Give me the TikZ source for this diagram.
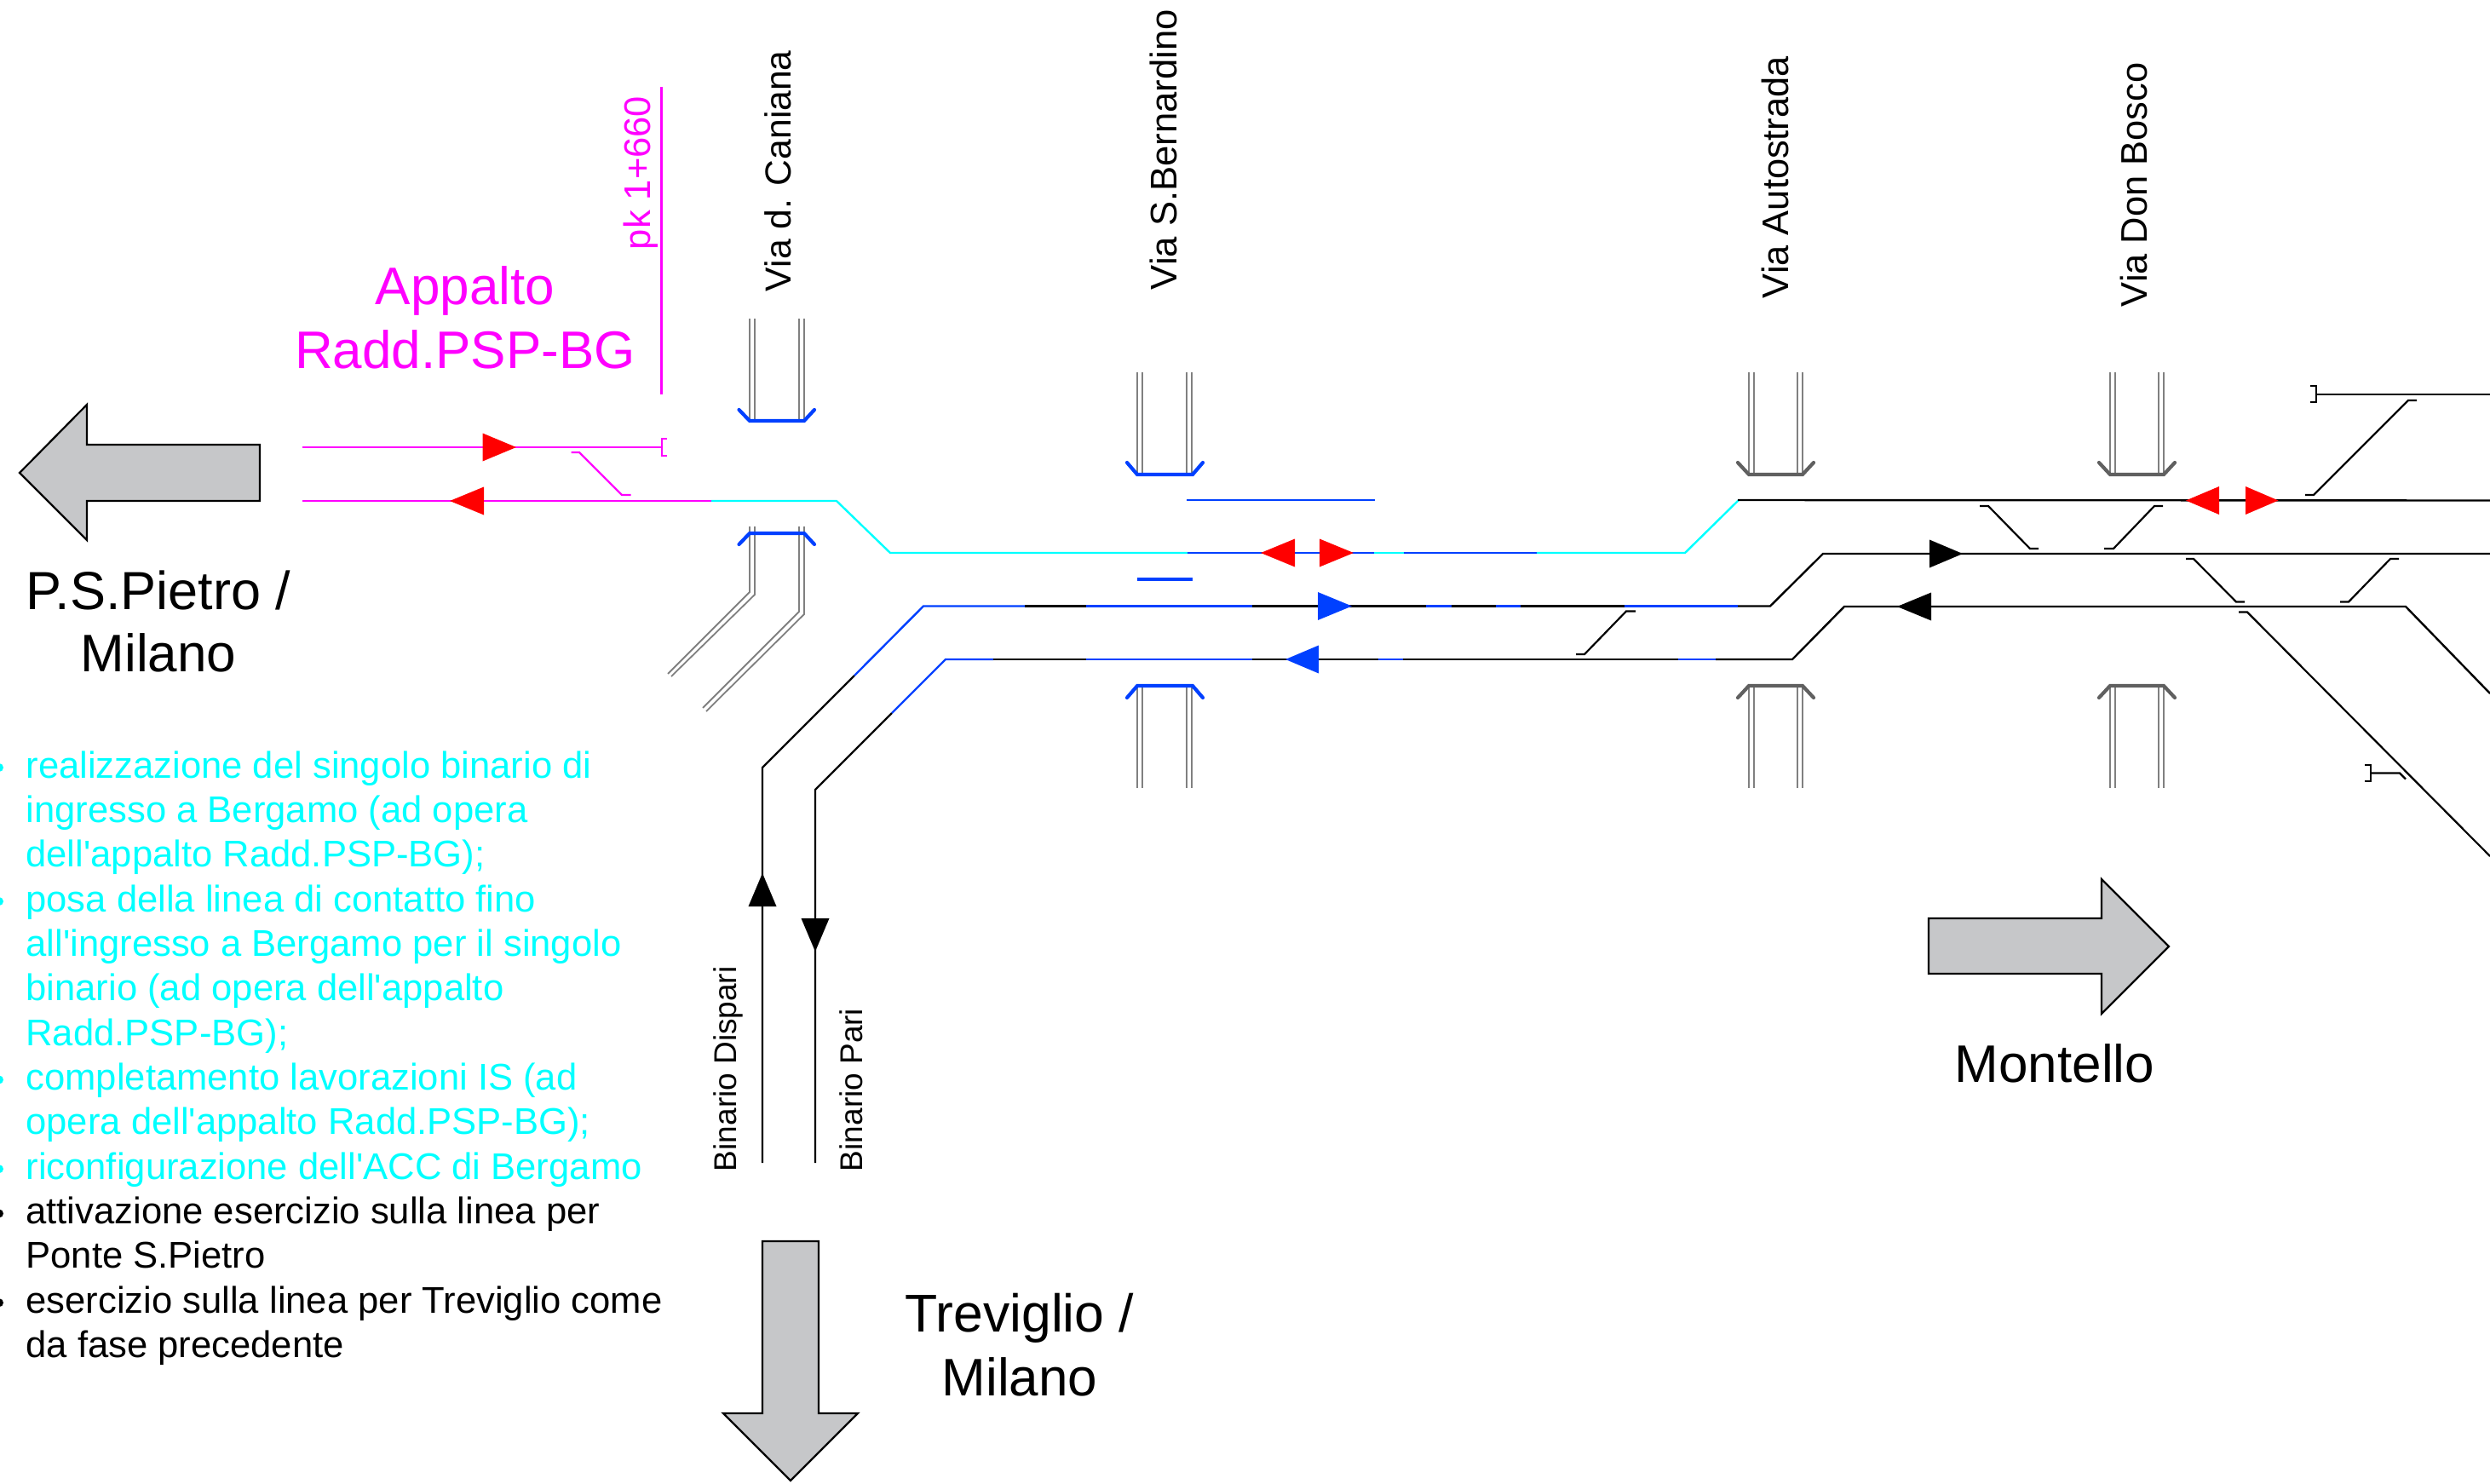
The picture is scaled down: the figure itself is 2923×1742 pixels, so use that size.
\documentclass[tikz,border=0pt]{standalone}
\usepackage{fontspec}
\newfontfamily\arialf{Liberation Sans}
\definecolor{tblue}{RGB}{0,64,255}
\definecolor{tmag}{RGB}{255,0,255}
\definecolor{tcyan}{RGB}{0,255,255}
\definecolor{tgrey}{RGB}{128,128,128}
\definecolor{capgrey}{RGB}{96,96,96}
\definecolor{arrowfill}{RGB}{198,199,201}
\newcommand{\lbl}[1]{\fontsize{#1}{#1}\selectfont}
\tikzset{
  every node/.style={inner sep=0pt,outer sep=0pt,font=\arialf},
  trk/.style={line width=2.4pt,line cap=butt,line join=miter},
  stub/.style={line width=2.2pt,line cap=butt,line join=miter},
  rail/.style={line width=1.8pt,draw=tgrey,line join=miter},
  abut/.style={line width=4.2pt,line join=miter,line cap=round},
  bigarrow/.style={draw=black,line width=2.2pt,fill=arrowfill,line join=miter},
  street/.style={rotate=90,anchor=base west,text=black},
  bigtext/.style={anchor=base,align=center,text=black},
  listc/.style={anchor=base west,text=tcyan},
  listk/.style={anchor=base west,text=black},
}
\begin{document}
\begin{tikzpicture}[x=1pt,y=-1pt]
\useasboundingbox (0,0) rectangle (2923,1742);
% overpass rails
\foreach \r in {880,886,938,944}{\draw[rail] (\r,374) -- (\r,494);}
\foreach \r in {1335,1341,1393,1399,2053,2059,2110,2116,2477,2483,2534,2540}{
  \draw[rail] (\r,437) -- (\r,557);
  \draw[rail] (\r,803) -- (\r,925);
}
\draw[rail] (880,618) -- (880,695) -- (784,791);
\draw[rail] (886,618) -- (886,698) -- (788,794);
\draw[rail] (938,618) -- (938,718) -- (825,831);
\draw[rail] (944,618) -- (944,721) -- (829,835);
% overpass abutments
\foreach \l/\a/\b/\r/\yo/\yi/\c in {
  867.5/880/944/956/481/494/tblue, 867.5/880/944/956/639/626/tblue,
  1323/1335/1400/1412/543/557/tblue, 1323/1335/1400/1412/819/805/tblue,
  2040/2053/2116/2129/543/557/capgrey, 2040/2053/2116/2129/819/805/capgrey,
  2464/2477/2540/2553/543/557/capgrey, 2464/2477/2540/2553/819/805/capgrey}{
  \draw[abut,draw=\c] (\l,\yo) -- (\a,\yi) -- (\b,\yi) -- (\r,\yo);
}
% blue bars near Via S.Bernardino
\draw[trk,tblue] (1393,587) -- (1614,587);
\draw[abut,tblue,line cap=butt] (1335,680) -- (1400,680);
% magenta part
\draw[trk,tmag] (776.5,102) -- (776.5,463);
\draw[trk,tmag] (355,525) -- (777,525);
\draw[stub,tmag] (783,515) -- (777,515) -- (777,535) -- (783,535);
\draw[trk,tmag] (355,588) -- (835,588);
\draw[stub,tmag] (670.5,531) -- (680,531) -- (730,581) -- (740.5,581);
% single track y=649
\draw[trk,tcyan] (835,588) -- (982,588) -- (1045,649) -- (1394,649);
\draw[trk,tblue] (1394,649) -- (1613,649);
\draw[trk,tcyan] (1613,649) -- (1648,649);
\draw[trk,tblue] (1648,649) -- (1804,649);
\draw[trk,tcyan] (1804,649) -- (1978,649) -- (2041,587);
\draw[trk,black] (2040,587) -- (2923,587.5);
% track Dispari
\draw[trk,black] (895,1365) -- (895,901) -- (1003,793);
\draw[trk,tblue] (1003,793) -- (1084,711.5) -- (1203,711.5);
\draw[trk,black] (1203,711.5) -- (1275,711.5);
\draw[trk,tblue] (1275,711.5) -- (1470,711.5);
\draw[trk,black] (1470,711.5) -- (1674,711.5);
\draw[trk,tblue] (1674,711.5) -- (1704,711.5);
\draw[trk,black] (1704,711.5) -- (1756,711.5);
\draw[trk,tblue] (1756,711.5) -- (1785,711.5);
\draw[trk,black] (1785,711.5) -- (1907,711.5);
\draw[trk,tblue] (1907,711.5) -- (2040,711.5);
\draw[trk,black] (2040,711.5) -- (2078,711.5) -- (2140,650) -- (2923,650);
% track Pari
\draw[trk,black] (957,1365) -- (957,927) -- (1047,837);
\draw[trk,tblue] (1047,837) -- (1110,774) -- (1166,774);
\draw[trk,black] (1166,774) -- (1275,774);
\draw[trk,tblue] (1275,774) -- (1470,774);
\draw[trk,black] (1470,774) -- (1618,774);
\draw[trk,tblue] (1618,774) -- (1647,774);
\draw[trk,black] (1647,774) -- (1970,774);
\draw[trk,tblue] (1970,774) -- (2014,774);
\draw[trk,black] (2014,774) -- (2104,774) -- (2165,712) -- (2824,712) -- (2923,814);
% crossovers and sidings
\draw[stub] (1850,768) -- (1860,768) -- (1909,717.5) -- (1920,717.5);
\draw[stub] (2324,594) -- (2334,594) -- (2383,644) -- (2393,644);
\draw[stub] (2470,644) -- (2481,644) -- (2529,594) -- (2539,594);
\draw[stub] (2566,656) -- (2575,656) -- (2625,706.5) -- (2635,706.5);
\draw[stub] (2747,706.5) -- (2757,706.5) -- (2806,656) -- (2816,656);
\draw[stub] (2628,718.5) -- (2638,718.5) -- (2923,1005);
\draw[stub] (2706,581) -- (2716,581) -- (2827,470) -- (2837,470);
\draw[stub] (2712,453) -- (2719,453) -- (2719,472) -- (2712,472);
\draw[stub] (2719,463) -- (2923,463);
\draw[stub] (2776,898) -- (2783,898) -- (2783,917) -- (2776,917);
\draw[stub] (2783,907.5) -- (2817,907.5) -- (2824,914.5);
% arrowheads on tracks
\foreach \t/\b/\y/\c in {
  606/566.5/525/red, 528/568/588/red,
  1480/1520/649/red, 1589/1549/649/red,
  1587/1547/711.5/tblue, 1509/1548/774/tblue,
  2566/2605/587.5/red, 2674.5/2636/587.5/red,
  2304/2265/650/black, 2227/2267/712/black}{
  \fill[\c] (\t,\y) -- (\b,\y-16.5) -- (\b,\y+16.5) -- cycle;
}
\fill (895,1025) -- (878.5,1064) -- (911.5,1064) -- cycle;
\fill (957,1117) -- (940.5,1078) -- (973.5,1078) -- cycle;
% grey direction arrows
\draw[bigarrow] (23,555) -- (102,475) -- (102,522) -- (305,522) -- (305,588) -- (102,588) -- (102,634) -- cycle;
\draw[bigarrow] (928,1738) -- (849,1659) -- (895,1659) -- (895,1457) -- (961,1457) -- (961,1659) -- (1007,1659) -- cycle;
\draw[bigarrow] (2546,1111) -- (2467,1032) -- (2467,1078) -- (2264,1078) -- (2264,1143) -- (2467,1143) -- (2467,1190) -- cycle;
% labels
\node[bigtext,text=tmag] (appalto) at (546,357) {\lbl{62}Appalto};
\node[bigtext,text=tmag] (radd) at (546,432) {\lbl{62}Radd.PSP-BG};
\node[street,text=tmag] (pk) at (763,293) {\lbl{43.5}pk 1+660};
\node[street] (caniana) at (928,342) {\lbl{42.6}Via d. Caniana};
\node[street] (bernardino) at (1381,340) {\lbl{43.6}Via S.Bernardino};
\node[street] (autostrada) at (2099,350) {\lbl{43.4}Via Autostrada};
\node[street] (bosco) at (2520,360) {\lbl{43.4}Via Don Bosco};
\node[street] (dispari) at (864,1375) {\lbl{37}Binario Dispari};
\node[street] (pari) at (1012,1375) {\lbl{37}Binario Pari};
\node[bigtext] (psp) at (186,715) {\lbl{63}P.S.Pietro /};
\node[bigtext] (milano) at (186,788) {\lbl{62}Milano};
\node[bigtext] (trev) at (1197,1563) {\lbl{62.5}Treviglio /};
\node[bigtext] (milanob) at (1197,1638) {\lbl{62}Milano};
\node[bigtext] (montello) at (2412,1270) {\lbl{62}Montello};
% list
\foreach \i/\s in {
  0/{realizzazione del singolo binario di},
  1/{ingresso a Bergamo (ad opera},
  2/{dell'appalto Radd.PSP-BG);},
  3/{posa della linea di contatto fino},
  4/{all'ingresso a Bergamo per il singolo},
  5/{binario (ad opera dell'appalto},
  6/{Radd.PSP-BG);},
  7/{completamento lavorazioni IS (ad},
  8/{opera dell'appalto Radd.PSP-BG);},
  9/{riconfigurazione dell'ACC di Bergamo}}{
  \node[listc] (line\i) at (30.5,913+\i*52.35) {\lbl{43.6}\s};
}
\foreach \i/\s in {
  10/{attivazione esercizio sulla linea per},
  11/{Ponte S.Pietro},
  12/{esercizio sulla linea per Treviglio come},
  13/{da fase precedente}}{
  \node[listk] (line\i) at (30.5,913+\i*52.35) {\lbl{43.6}\s};
}
\foreach \i in {0,3,7,9}{\fill[tcyan] (-1,901+\i*52.35) circle (5);}
\foreach \i in {10,12}{\fill[black] (-1,901+\i*52.35) circle (5);}
\end{tikzpicture}
\end{document}
